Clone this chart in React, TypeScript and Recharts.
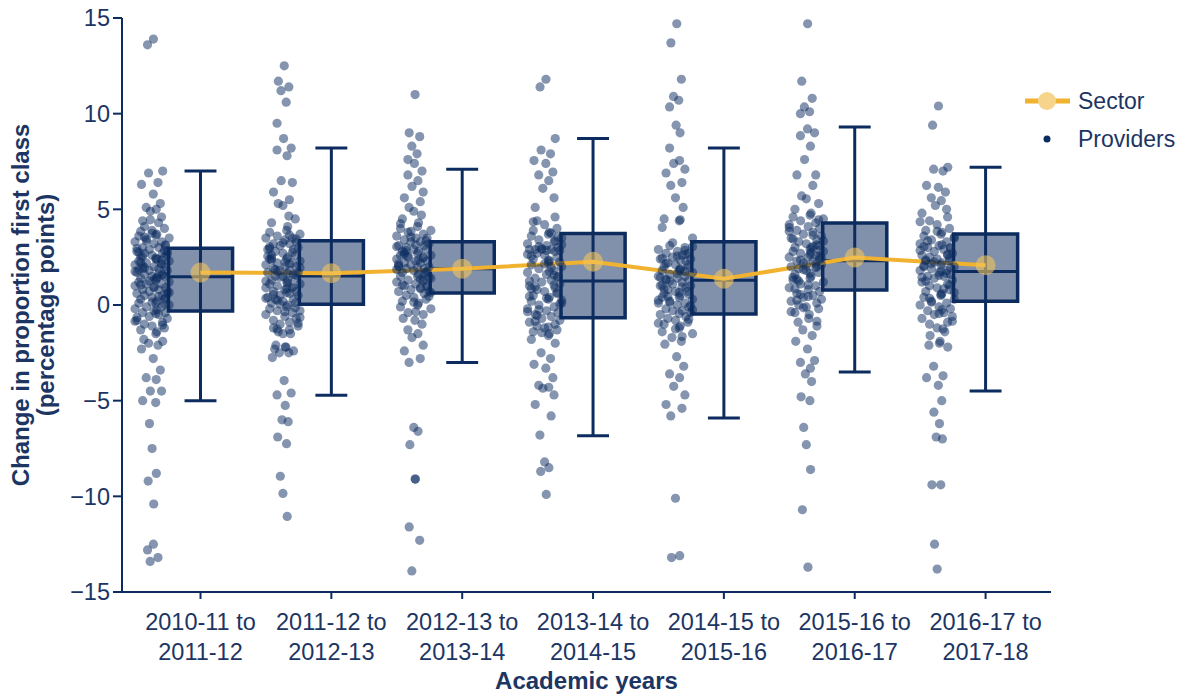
import {
  ComposedChart,
  XAxis,
  YAxis,
  Scatter,
  Line,
  ReferenceArea,
  ReferenceLine,
  Legend,
} from "recharts";

const NAVY = "#0c2c5f";
const TEXT = "#1c3563";
const GOLD = "#f1b230";
const FONT = "'Liberation Sans', Arial, sans-serif";

const CATEGORIES = [
  "2010-11 to\n2011-12",
  "2011-12 to\n2012-13",
  "2012-13 to\n2013-14",
  "2013-14 to\n2014-15",
  "2014-15 to\n2015-16",
  "2015-16 to\n2016-17",
  "2016-17 to\n2017-18",
];
const Y_TICKS = [-15, -10, -5, 0, 5, 10, 15];

// sector average and box stats per year pair
const SECTOR = [1.7, 1.66, 1.9, 2.26, 1.37, 2.48, 2.08];
const WHISKER_HIGH = [7.0, 8.2, 7.1, 8.7, 8.2, 9.3, 7.2];
const Q3 = [2.96, 3.36, 3.3, 3.74, 3.3, 4.29, 3.71];
const MEDIAN = [1.47, 1.52, 1.9, 1.26, 1.3, 2.31, 1.75];
const Q1 = [-0.31, 0.04, 0.63, -0.67, -0.47, 0.79, 0.2];
const WHISKER_LOW = [-5.0, -4.72, -3.0, -6.84, -5.9, -3.5, -4.5];

// provider-level changes
const PROVIDERS_1011 = [
  13.9, 13.6, 7.0, 6.9, 6.4, 6.3, 5.8, 5.3, 5.1, 5.0, 4.9, 4.6, 4.4, 4.3, 4.1, 3.9,
  4.0, 3.85, 3.7, 3.65, 3.6, 3.5, 3.45, 3.3, 3.3, 3.2, 3.1, 3.0, 3.0, 2.9, 2.8, 2.8,
  2.7, 2.7, 2.6, 2.5, 2.5, 2.4, 2.4, 2.3, 2.3, 2.2, 2.1, 2.1, 2.0, 2.0, 1.9, 1.9,
  1.8, 1.8, 1.7, 1.6, 1.6, 1.5, 1.5, 1.4, 1.4, 1.3, 1.2, 1.2, 1.1, 1.1, 1.0, 0.9,
  0.9, 0.8, 0.8, 0.7, 0.6, 0.6, 0.5, 0.5, 0.4, 0.3, 0.3, 0.2, 0.1, 0.1, 0.0, -0.1,
  -0.1, -0.2, -0.3, -0.4, -0.4, -0.5, -0.6, -0.7, -0.8, -0.9, -1.0, -1.1, -1.2, -1.3,
  -1.4, -1.5, -1.8, -1.9, -2.0, -2.1, -2.3, -2.8, -3.4, -3.8, -3.9, -4.5, -4.5, -5.0,
  -5.1, -6.2, -7.5, -8.8, -9.2, -10.4, -12.5, -12.8, -13.2, -13.4,
  2.35, 1.75, 0.95, 3.15, 2.05, 0.45, 1.25, 2.65, -0.65, 1.55, 3.55, 0.15, 2.85, 1.05,
  -0.25, 2.45, 1.85, 0.65, 3.35, 2.15, -0.85, 1.35, 0.35, 2.55, 1.65, 4.45, 0.75, 2.95,
  -1.05, 1.95, 3.75, 0.05, 2.25, 1.45, -0.45, 2.75,
];
const PROVIDERS_1112 = [
  12.5, 11.7, 11.4, 11.2, 10.6, 9.5, 8.7, 8.2, 8.1, 7.8, 6.5, 6.4, 5.9, 5.5, 5.3, 5.2,
  4.5, 4.3, 4.1, 3.9, 3.8, 3.7, 3.6, 3.5, 3.5, 3.4, 3.3, 3.2, 3.2, 3.1, 3.0, 2.9,
  2.9, 2.8, 2.7, 2.6, 2.6, 2.5, 2.4, 2.4, 2.3, 2.2, 2.2, 2.1, 2.0, 2.0, 1.9, 1.8,
  1.8, 1.7, 1.7, 1.6, 1.5, 1.5, 1.4, 1.3, 1.3, 1.2, 1.1, 1.1, 1.0, 0.9, 0.9, 0.8,
  0.7, 0.7, 0.6, 0.5, 0.5, 0.4, 0.3, 0.3, 0.2, 0.1, 0.1, 0.0, -0.1, -0.2, -0.3, -0.3,
  -0.4, -0.5, -0.6, -0.7, -0.8, -0.9, -1.0, -1.1, -1.2, -1.3, -1.4, -1.5, -1.5, -2.1,
  -2.2, -2.2, -2.3, -2.4, -2.5, -2.5, -2.75, -3.95, -4.6, -4.7, -5.25, -6.0, -6.1,
  -6.9, -7.25, -8.95, -9.85, -11.05,
  2.35, 1.65, 0.85, 3.05, 1.95, 0.25, 2.75, 1.25, -0.35, 3.45, 0.55, 2.15, 1.45, -0.95,
  2.55, 0.95, 1.85, 3.25, -0.15, 2.45, 1.15, 0.65, 2.95, -0.65, 1.75, 4.65, 0.35, 2.25,
  1.55, -1.25, 3.65, 0.05,
];
const PROVIDERS_1213 = [
  11.0, 9.0, 8.8, 8.3, 7.9, 7.6, 7.4, 7.0, 6.8, 6.5, 6.2, 5.9, 5.6, 5.4, 5.1, 4.9,
  4.7, 4.5, 4.3, 4.1, 4.0, 3.9, 3.8, 3.7, 3.6, 3.5, 3.5, 3.4, 3.3, 3.3, 3.2, 3.1,
  3.1, 3.0, 2.9, 2.9, 2.8, 2.8, 2.7, 2.6, 2.6, 2.5, 2.5, 2.4, 2.3, 2.3, 2.2, 2.2,
  2.1, 2.0, 2.0, 1.9, 1.9, 1.8, 1.7, 1.7, 1.6, 1.5, 1.5, 1.4, 1.3, 1.3, 1.2, 1.1,
  1.0, 1.0, 0.9, 0.8, 0.7, 0.7, 0.6, 0.5, 0.4, 0.3, 0.2, 0.1, 0.0, -0.1, -0.2, -0.4,
  -0.5, -0.7, -0.8, -1.0, -1.3, -1.5, -1.7, -2.1, -2.4, -2.8, -3.0, -6.4, -6.6, -7.3,
  -9.1, -9.1, -11.6, -12.3, -13.9,
  2.45, 1.85, 3.15, 0.95, 2.65, 1.35, 3.55, 0.45, 2.15, 1.65, 2.85, 0.15, 3.35, 1.05,
  2.35, 1.95, 4.25, 0.65, 2.55, 1.25, 3.05, -0.35, 1.75, 2.75, 0.85, 3.85, 1.45, 2.05,
];
const PROVIDERS_1314 = [
  11.8, 11.4, 8.7, 8.1, 7.9, 7.55, 7.4, 6.95, 6.8, 6.5, 6.1, 5.6, 5.1, 4.6, 4.4, 4.2,
  4.0, 3.9, 3.8, 3.7, 3.6, 3.5, 3.4, 3.3, 3.2, 3.1, 3.0, 2.9, 2.9, 2.9, 2.85, 2.9,
  2.8, 2.7, 2.6, 2.5, 2.4, 2.3, 2.2, 2.1, 2.0, 1.9, 1.8, 1.7, 1.6, 1.5, 1.4, 1.3,
  1.2, 1.1, 1.0, 0.9, 0.8, 0.7, 0.6, 0.5, 0.4, 0.3, 0.2, 0.1, 0.0, -0.1, -0.2, -0.3,
  -0.4, -0.5, -0.6, -0.7, -0.8, -0.9, -1.0, -1.1, -1.2, -1.3, -1.4, -1.5, -1.6, -1.8,
  -2.0, -2.5, -2.8, -3.1, -3.3, -3.8, -4.2, -4.3, -4.35, -4.7, -5.2, -5.8, -6.8,
  -8.2, -8.5, -8.7, -9.9,
  2.35, 0.85, 3.15, -0.25, 1.55, 2.65, 0.35, 3.55, -0.85, 1.95, 2.95, 0.05, 1.25, 3.35,
  -0.55, 2.15, 0.65, 4.35, 1.75, -1.15, 2.55, 0.25, 3.05, 1.05, -0.35, 2.85, 1.45, 0.95,
  3.75, -1.45, 2.25, 0.45,
];
const PROVIDERS_1415 = [
  14.7, 13.7, 11.8, 10.9, 10.7, 10.35, 9.4, 9.0, 8.2, 7.55, 7.4, 7.1, 6.9, 6.4, 6.25,
  5.6, 5.1, 4.5, 4.45, 4.4, 4.05, 3.5, 3.1, 3.0, 2.9, 2.8, 2.7, 2.7, 2.6, 2.5, 2.4,
  2.4, 2.3, 2.2, 2.1, 2.1, 2.0, 1.9, 1.8, 1.8, 1.7, 1.6, 1.5, 1.5, 1.4, 1.3, 1.3,
  1.2, 1.1, 1.0, 1.0, 0.9, 0.8, 0.7, 0.7, 0.6, 0.5, 0.4, 0.4, 0.3, 0.2, 0.1, 0.1,
  0.0, -0.1, -0.2, -0.3, -0.3, -0.4, -0.5, -0.6, -0.7, -0.8, -0.9, -1.0, -1.1, -1.2,
  -1.4, -1.5, -1.7, -1.9, -2.05, -2.7, -3.2, -3.6, -3.8, -4.25, -4.7, -5.2, -5.4,
  -5.8, -10.1, -13.1, -13.2,
  1.85, 0.65, 2.45, -0.25, 1.25, 2.85, 0.25, 1.65, -0.75, 2.15, 0.95, 3.25, -0.05, 1.45,
  2.65, 0.45, -1.25, 1.95, 0.85, 2.35, -0.45, 1.05, 3.05, 0.15, 1.75, -0.95, 2.55, 0.55,
  1.35, -1.65,
];
const PROVIDERS_1516 = [
  14.7, 11.7, 10.8, 10.35, 10.1, 10.0, 9.2, 9.0, 8.85, 8.3, 7.6, 6.8, 6.8, 6.25, 5.7,
  5.55, 5.3, 5.0, 4.8, 4.7, 4.6, 4.5, 4.4, 4.3, 4.2, 4.1, 4.0, 3.9, 3.8, 3.7, 3.6,
  3.5, 3.4, 3.3, 3.2, 3.1, 3.0, 3.0, 2.9, 2.8, 2.8, 2.7, 2.6, 2.5, 2.5, 2.4, 2.3,
  2.3, 2.2, 2.1, 2.0, 2.0, 1.9, 1.8, 1.7, 1.6, 1.5, 1.4, 1.3, 1.2, 1.1, 1.0, 0.9,
  0.8, 0.7, 0.6, 0.5, 0.4, 0.3, 0.2, 0.1, 0.0, -0.1, -0.2, -0.4, -0.5, -0.7, -0.9,
  -1.1, -1.3, -1.6, -1.9, -2.3, -2.9, -3.0, -3.3, -3.6, -4.0, -4.8, -5.0, -6.4, -7.3,
  -8.6, -10.7, -13.7,
  2.65, 1.45, 3.35, 0.55, 2.15, 4.05, 1.05, 2.85, 0.25, 3.65, 1.85, 2.45, -0.35, 3.15,
  1.25, 2.05, 4.45, 0.85, 2.75, 1.65, 3.45, -0.85, 2.35, 1.95, 3.85, 0.45, 2.55, 1.35,
  3.05, -0.15,
];
const PROVIDERS_1617 = [
  10.4, 9.4, 7.2, 7.1, 7.0, 6.25, 6.15, 5.9, 5.6, 5.45, 5.2, 5.0, 4.8, 4.6, 4.4, 4.2,
  4.0, 3.9, 3.8, 3.7, 3.6, 3.5, 3.4, 3.3, 3.2, 3.1, 3.0, 3.0, 2.9, 2.8, 2.7, 2.6,
  2.6, 2.5, 2.4, 2.3, 2.3, 2.2, 2.1, 2.0, 2.0, 1.9, 1.8, 1.8, 1.7, 1.6, 1.5, 1.5,
  1.4, 1.3, 1.2, 1.1, 1.0, 0.9, 0.8, 0.7, 0.6, 0.5, 0.4, 0.3, 0.2, 0.1, 0.0, -0.1,
  -0.2, -0.3, -0.4, -0.5, -0.6, -0.7, -0.9, -1.0, -1.2, -1.4, -1.6, -1.9, -2.0, -2.1,
  -2.2, -3.2, -3.7, -3.8, -4.2, -5.0, -5.6, -6.2, -6.9, -7.0, -9.4, -9.4, -12.5, -13.8,
  2.45, 1.25, 3.15, 0.55, 2.05, 3.55, 0.15, 1.65, 2.85, -0.45, 1.95, 3.35, 0.85, 2.25,
  -0.85, 1.45, 2.65, 0.35, 3.85, 1.05, 2.35, -0.25, 1.75, 3.05, 0.65, 2.15, -1.25, 4.35,
  1.55, 2.95,
];
const PROVIDERS = [
  PROVIDERS_1011,
  PROVIDERS_1112,
  PROVIDERS_1213,
  PROVIDERS_1314,
  PROVIDERS_1415,
  PROVIDERS_1516,
  PROVIDERS_1617,
];

// fixed jitter pattern so the strip spreads sideways
const JITTER = [
  0.2, -0.7, 0.9, -0.3, 0.5, -0.9, 0.1, 0.7, -0.5, 0.35, -0.15, 0.8, -0.8, 0.55, -0.4,
  0.0, 0.65, -0.6, 0.25,
];
const STRIP_OFFSET = -0.37;
const BOX_HALF = 0.245;
const CAP_HALF = 0.122;

const providerPoints = PROVIDERS.flatMap((vals, i) =>
  vals.map((v, k) => {
    const spread =
      v >= Q1[i] - 1.2 && v <= Q3[i] + 1.2
        ? 0.145
        : v >= WHISKER_LOW[i] && v <= WHISKER_HIGH[i]
        ? 0.09
        : 0.05;
    return { x: i + STRIP_OFFSET + JITTER[k % JITTER.length] * spread, y: v };
  })
);
const sectorPoints = SECTOR.map((v, i) => ({ x: i, y: v }));

function XTick({ x, y, payload }: any) {
  const [a, b] = CATEGORIES[payload.value].split("\n");
  return (
    <text x={x} y={y} textAnchor="middle" fill={TEXT} fontSize={23.5} fontFamily={FONT}>
      <tspan x={x} dy={29}>{a}</tspan>
      <tspan x={x} dy={30}>{b}</tspan>
    </text>
  );
}

function YTitle({ viewBox }: any) {
  const cy = viewBox.y + viewBox.height / 2;
  return (
    <text
      transform={`rotate(-90, 29, ${cy})`}
      x={29}
      y={cy}
      textAnchor="middle"
      fill={TEXT}
      fontSize={24}
      fontWeight="bold"
      fontFamily={FONT}
    >
      <tspan x={29} dy={0}>Change in proportion first class</tspan>
      <tspan x={29} dy={25}>(percentage points)</tspan>
    </text>
  );
}

function XTitle({ viewBox }: any) {
  return (
    <text
      x={viewBox.x + viewBox.width / 2}
      y={viewBox.y + 97}
      textAnchor="middle"
      fill={TEXT}
      fontSize={24}
      fontWeight="bold"
      fontFamily={FONT}
    >
      Academic years
    </text>
  );
}

function LegendBox() {
  return (
    <svg width={160} height={70} style={{ fontFamily: FONT }}>
      <line x1={7} x2={52} y1={15} y2={15} stroke={GOLD} strokeWidth={5} />
      <circle cx={29} cy={15} r={9} fill="#f6d48c" />
      <text x={60} y={15} dy="0.35em" fill={TEXT} fontSize={23}>Sector</text>
      <circle cx={29} cy={53} r={3.5} fill={NAVY} />
      <text x={60} y={53} dy="0.35em" fill={TEXT} fontSize={23}>Providers</text>
    </svg>
  );
}

export default function App() {
  return (
    <div style={{ width: 1186, height: 695, position: "relative", fontFamily: FONT }}>
      <style>{"body{margin:0;overflow:hidden}"}</style>
      <ComposedChart
        width={1186}
        height={695}
        margin={{ top: 18, right: 135, bottom: 0, left: 0 }}
      >
        <XAxis
          type="number"
          dataKey="x"
          domain={[-0.6, 6.5]}
          ticks={[0, 1, 2, 3, 4, 5, 6]}
          allowDataOverflow
          height={103}
          tick={<XTick />}
          tickSize={7}
          axisLine={{ stroke: NAVY, strokeWidth: 2 }}
          tickLine={{ stroke: NAVY, strokeWidth: 2 }}
          label={{ content: <XTitle /> }}
        />
        <YAxis
          type="number"
          dataKey="y"
          domain={[-15, 15]}
          ticks={Y_TICKS}
          allowDataOverflow
          width={122}
          tickSize={9}
          tickMargin={3}
          tickFormatter={(v: number) => String(v).replace("-", "\u2212")}
          tick={{ fill: TEXT, fontSize: 23.5, fontFamily: FONT }}
          axisLine={{ stroke: NAVY, strokeWidth: 2 }}
          tickLine={{ stroke: NAVY, strokeWidth: 2 }}
          label={{ content: <YTitle /> }}
        />
        <Scatter
          name="Providers"
          data={providerPoints}
          dataKey="y"
          isAnimationActive={false}
          shape={(p: any) => (
            <circle cx={p.cx} cy={p.cy} r={4.6} fill={NAVY} fillOpacity={0.5} />
          )}
        />
        {CATEGORIES.map((_, i) => (
          <ReferenceLine
            key={`wh${i}`}
            segment={[{ x: i, y: WHISKER_LOW[i] }, { x: i, y: WHISKER_HIGH[i] }]}
            stroke={NAVY}
            strokeWidth={3}
          />
        ))}
        {CATEGORIES.map((_, i) => (
          <ReferenceArea
            key={`box${i}`}
            x1={i - BOX_HALF}
            x2={i + BOX_HALF}
            y1={Q1[i]}
            y2={Q3[i]}
            fill="#8190ab"
            fillOpacity={1}
            stroke={NAVY}
            strokeWidth={3.5}
          />
        ))}
        {CATEGORIES.map((_, i) => (
          <ReferenceLine
            key={`med${i}`}
            segment={[{ x: i - BOX_HALF, y: MEDIAN[i] }, { x: i + BOX_HALF, y: MEDIAN[i] }]}
            stroke={NAVY}
            strokeWidth={3}
          />
        ))}
        {CATEGORIES.map((_, i) => (
          <ReferenceLine
            key={`hi${i}`}
            segment={[{ x: i - CAP_HALF, y: WHISKER_HIGH[i] }, { x: i + CAP_HALF, y: WHISKER_HIGH[i] }]}
            stroke={NAVY}
            strokeWidth={3}
          />
        ))}
        {CATEGORIES.map((_, i) => (
          <ReferenceLine
            key={`lo${i}`}
            segment={[{ x: i - CAP_HALF, y: WHISKER_LOW[i] }, { x: i + CAP_HALF, y: WHISKER_LOW[i] }]}
            stroke={NAVY}
            strokeWidth={3}
          />
        ))}
        <Line
          name="Sector"
          data={sectorPoints}
          dataKey="y"
          stroke={GOLD}
          strokeWidth={4}
          isAnimationActive={false}
          dot={(p: any) => (
            <circle key={p.index} cx={p.cx} cy={p.cy} r={10} fill="#f3c45a" fillOpacity={0.6} />
          )}
          activeDot={false}
        />
        <Legend
          layout="vertical"
          align="center"
          verticalAlign="middle"
          wrapperStyle={{ left: 1018, top: 86, width: 160, height: 70 }}
          content={() => <LegendBox />}
        />
      </ComposedChart>
    </div>
  );
}
